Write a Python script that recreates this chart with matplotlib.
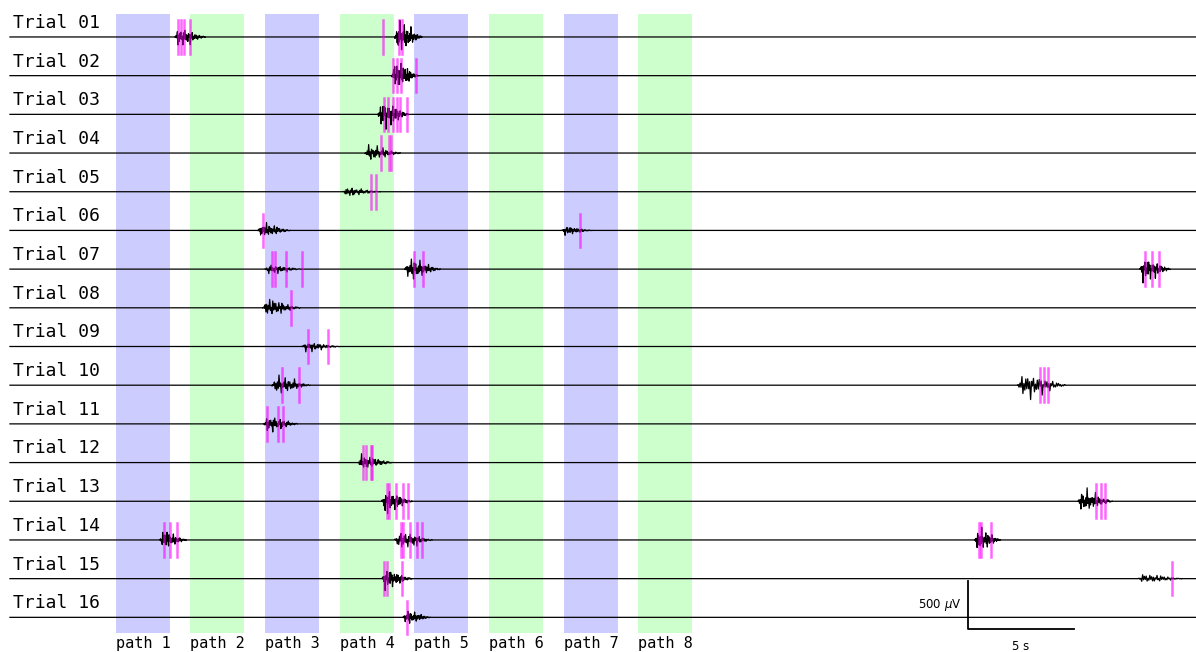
import matplotlib
import matplotlib.pyplot as plt
import numpy as np

matplotlib.use("Agg")

# trial rows
trials = [f"Trial {i:02d}" for i in range(1, 17)]

# path bands: start time (s) and width (s)
path_labels = [f"path {i}" for i in range(1, 9)]
path_starts = [5.0, 8.49, 12.03, 15.57, 19.06, 22.59, 26.13, 29.62]
path_width = 2.55
path_colors = ["blue", "lime"] * 4

# bursts per trial: (start s, duration s, peak amplitude uV)
bursts = [
    [(7.78, 1.42, 130), (18.16, 1.27, 220)],
    [(18.02, 1.23, 200)],
    [(17.36, 1.42, 200)],
    [(16.75, 1.65, 110)],
    [(15.71, 1.75, 65)],
    [(11.70, 1.51, 105), (26.04, 1.42, 55)],
    [(12.03, 1.75, 65), (18.63, 1.65, 160), (53.30, 1.42, 160)],
    [(11.93, 1.75, 120)],
    [(13.77, 1.79, 65)],
    [(12.36, 1.79, 135), (47.55, 2.22, 185)],
    [(11.98, 1.56, 120)],
    [(16.42, 1.60, 105)],
    [(17.55, 1.42, 160), (50.38, 1.60, 160)],
    [(7.08, 1.23, 120), (18.16, 1.75, 135), (45.52, 1.18, 160)],
    [(17.55, 1.42, 135), (53.21, 2.08, 65)],
    [(18.54, 1.27, 95)],
]

# detected spike times (s) per trial
spikes = [
    [7.92, 8.07, 8.21, 8.49, 17.59, 18.35, 18.49],
    [18.07, 18.25, 18.44, 19.15],
    [17.64, 17.83, 18.07, 18.25, 18.40, 18.73],
    [17.50, 17.88, 17.97],
    [17.03, 17.26],
    [11.93, 26.89],
    [12.36, 12.50, 13.02, 13.77, 19.06, 19.48, 53.54, 53.87, 54.20],
    [13.25],
    [14.06, 15.00],
    [12.83, 13.63, 48.58, 48.77, 48.96],
    [12.12, 12.64, 12.88],
    [16.65, 16.79, 17.03, 17.08],
    [17.78, 17.88, 18.21, 18.54, 18.77, 51.23, 51.46, 51.65],
    [7.26, 7.55, 7.88, 18.44, 18.54, 18.87, 19.20, 19.43, 45.71, 45.80, 46.27],
    [17.64, 17.78, 18.49, 54.81],
    [18.73],
]

# burst waveform shape (typed template)
wave = [0.12, -0.35, 0.58, -0.21, 0.77, -0.64, 0.30, -0.92, 0.45, -0.18,
        0.86, -0.53, 0.09, -0.71, 0.66, -0.40, 0.97, -0.27, 0.51, -0.83,
        0.22, -0.60, 0.74, -0.15, 0.38, -0.95, 0.61, -0.33, 0.88, -0.47,
        0.19, -0.69, 0.54, -0.24, 0.80, -0.57, 0.28, -0.90, 0.43, -0.12,
        0.70, -0.50, 0.15, -0.78, 0.63, -0.36, 0.92, -0.20, 0.48, -0.86]
envelope = [0.08, 0.12, 0.20, 0.35, 0.55, 1.00, 0.50, 0.40, 0.65, 0.85,
            0.45, 0.35, 0.70, 0.90, 0.50, 0.40, 0.55, 0.75, 0.40, 0.30,
            0.45, 0.60, 0.35, 0.30, 0.50, 0.65, 0.30, 0.25, 0.40, 0.50,
            0.25, 0.20, 0.30, 0.35, 0.20, 0.18, 0.25, 0.20, 0.15, 0.14,
            0.18, 0.12, 0.10, 0.12, 0.08, 0.08, 0.07, 0.06, 0.05, 0.04]

spacing = 403.0   # uV between trial baselines
t_end = 56.0

fig = plt.figure(figsize=(11.96, 6.52), dpi=100)
ax = fig.add_axes([0, 0, 1, 1])
ax.set_xlim(-0.47, 55.94)
ax.set_ylim(-6406, 385)
ax.axis("off")

band_top, band_bottom = 240, -6208
for start, color, label in zip(path_starts, path_colors, path_labels):
    ax.axvspan(start, start + path_width,
               ymin=(band_bottom + 6406) / 6791, ymax=(band_top + 6406) / 6791,
               color=color, alpha=0.2, lw=0, zorder=0)
    ax.text(start + path_width / 2, -6313, label, ha="center", va="center",
            fontsize=11, family="DejaVu Sans Mono")

n = len(wave)
for i, name in enumerate(trials):
    base = -i * spacing
    xs = [0.0]
    ys = [0.0]
    for k, (t0, dur, amp) in enumerate(bursts[i]):
        shift = (i * 7 + k * 13) % n
        w = np.roll(wave, shift)
        tt = np.linspace(t0, t0 + dur, n)
        yy = w * np.array(envelope) * amp
        xs += [t0] + list(tt) + [t0 + dur]
        ys += [0.0] + list(yy) + [0.0]
    xs.append(t_end)
    ys.append(0.0)
    ax.plot(xs, np.array(ys) + base, color="black", lw=0.9, zorder=2)

    for s in spikes[i]:
        ax.plot([s, s], [base - 175, base + 175], color="magenta",
                lw=1.8, alpha=0.6, zorder=3)

    ax.text(0.14, base + 95, name, ha="left", va="baseline",
            fontsize=13, family="DejaVu Sans Mono")

# scale bar: 500 uV, 5 s
sb_x, sb_y = 45.19, -6167
ax.plot([sb_x, sb_x, sb_x + 5], [sb_y + 500, sb_y, sb_y], color="black", lw=1.3)
ax.text(sb_x - 0.3, sb_y + 250, r"500 $\mu$V", ha="right", va="center", fontsize=8.5)
ax.text(sb_x + 2.5, sb_y - 110, "5 s", ha="center", va="top", fontsize=8.5)

fig.savefig("out.png", dpi=100)
